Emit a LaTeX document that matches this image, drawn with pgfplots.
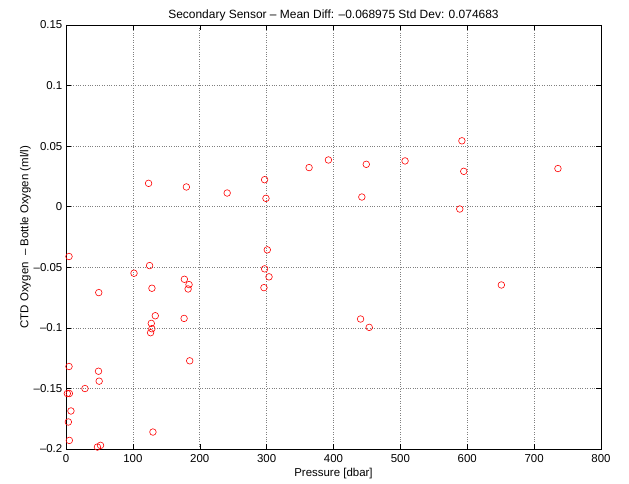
\documentclass[border=0pt]{standalone}
\usepackage{fontspec}
\setmainfont{Liberation Sans}
\usepackage{pgfplots}
\pgfplotsset{compat=1.18}
\begin{document}
\begin{tikzpicture}[font=\fontsize{11.5}{13}\selectfont]
    \begin{axis}[
        scale only axis,
        width=535bp, height=424bp,
        xmin=0, xmax=800,
        ymin=-0.2, ymax=0.15,
        xtick={0,100,...,800},
        ytick={-0.2,-0.15,-0.1,-0.05,0,0.05,0.1,0.15},
        yticklabels={\textendash0.2,\textendash0.15,\textendash0.1,\textendash0.05,0,0.05,0.1,0.15},
        tick align=inside,
        major tick length=5bp,
        tick style={black, line width=0.5pt},
        axis line style={black, line width=0.6pt},
        grid=major,
        major grid style={dotted, gray, line width=0.6pt},
        tick label style={font=\fontsize{11.5}{13}\selectfont},
        label style={font=\fontsize{11.5}{13}\selectfont},
        xticklabel style={anchor=north, inner sep=0pt, yshift=-5bp},
        yticklabel style={anchor=east, inner sep=0pt, xshift=-3.5bp},
        /pgf/number format/assume math mode=true,
        xlabel={Pressure [dbar]},
        ylabel={CTD Oxygen \ \textendash\ Bottle Oxygen (ml/l)},
        xlabel style={at={(axis description cs:0.5,-0.057)}, anchor=center},
        ylabel style={at={(axis description cs:-0.076,0.5)}, anchor=center},
        title={Secondary Sensor \textendash\ Mean Diff: \textendash0.068975 Std Dev: 0.074683},
        title style={font=\fontsize{12}{14}\selectfont,
            at={(axis description cs:0.5,1)}, anchor=base, yshift=1bp},
        clip=false,
    ]
    % bottle differences
    \addplot[only marks, mark=o, red, mark size=3.3bp, line width=0.6pt]
    coordinates {
        (4.5,-0.0411) (125,-0.0486) (101.7,-0.0549) (49,-0.0709)
        (128.5,-0.0673) (177,-0.0599) (184,-0.0643) (182.6,-0.0679)
        (301,-0.0356) (297,-0.0513) (303.6,-0.0579) (296,-0.0668)
        (133.5,-0.0900) (127.5,-0.0963) (128.4,-0.1007) (126.5,-0.1040)
        (176.6,-0.0922) (185,-0.1272) (4.5,-0.1319) (48.6,-0.1358)
        (49.6,-0.1440) (28.3,-0.1501) (2,-0.1542) (5,-0.1542)
        (7.4,-0.1686) (3.5,-0.1777) (5,-0.1929) (130,-0.1860)
        (47,-0.1984) (51.6,-0.1970)
        (123.5,0.0193) (180,0.0163) (241,0.0113) (297,0.0223)
        (299,0.0069) (363.5,0.0323) (392.4,0.0386) (449,0.0350)
        (442.4,0.0080) (507,0.0378) (592,0.0544) (594.8,0.0292)
        (588.8,-0.0019) (735.6,0.0315) (651,-0.0646) (440.5,-0.0927)
        (453.4,-0.0996)
    };
    \end{axis}
    \pgfresetboundingbox
    \path (-66bp,-35bp) rectangle (563bp,449bp);
\end{tikzpicture}
\end{document}
